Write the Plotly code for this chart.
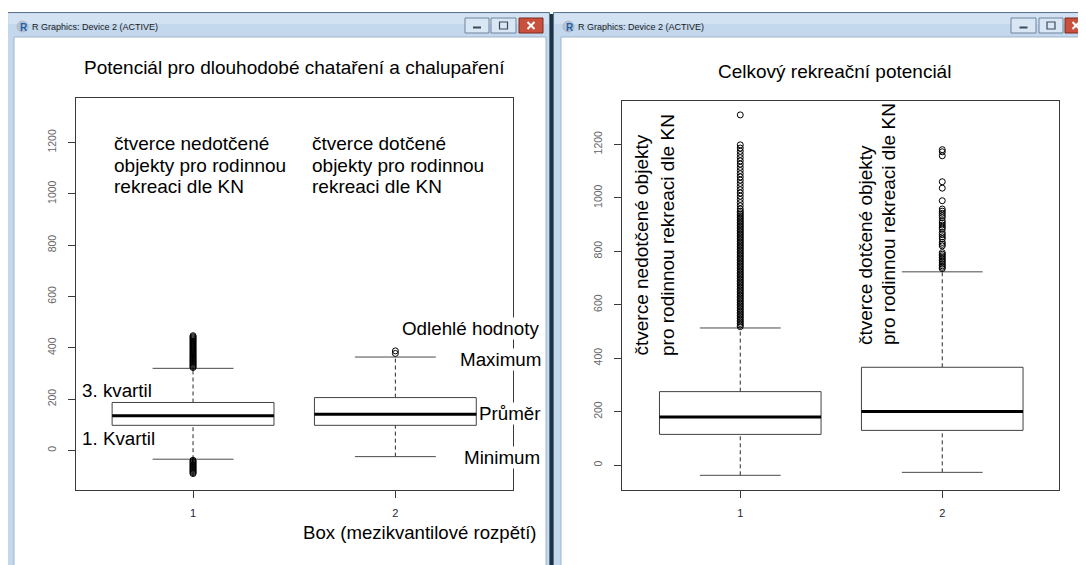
import plotly.graph_objects as go

# page body has an 8px margin: figure is offset, so size it to the remaining area
OX, OY = 8, 8
W, H = 1086 - OX, 565 - OY

# ---------------- data ----------------
categories = ["1", "2"]
positions = [1, 2]
y_ticks = [0, 200, 400, 600, 800, 1000, 1200]

left_title = "Potenciál pro dlouhodobé chataření a chalupaření"
left_lower = [-34, -24]
left_q1 = [98, 98]
left_median = [135, 141]
left_q3 = [187, 206]
left_upper = [320, 364]
left_out_1 = [323, 327, 331, 335, 339, 343, 347, 351, 355, 359, 363, 367, 371, 375, 379, 383,
              387, 391, 395, 399, 403, 407, 411, 415, 419, 423, 427, 431, 435, 439, 443, 447,
              -38, -42, -46, -50, -54, -58, -62, -66, -70, -74, -78, -82, -86, -90]
left_out_2 = [378, 388]

right_title = "Celkový rekreační potenciál"
right_lower = [-38, -27]
right_q1 = [115, 130]
right_median = [180, 201]
right_q3 = [275, 366]
right_upper = [513, 723]
right_out_1 = [1310,
               1198, 1186, 1174, 1162, 1150, 1138, 1126, 1114, 1102, 1090, 1078, 1066, 1054,
               1042, 1030, 1018, 1006, 994, 982, 970, 958,
               950, 944, 938, 932, 926, 920, 914, 908, 902, 896, 890, 884, 878, 872, 866, 860,
               854, 848, 842, 836, 830, 824, 818, 812, 806, 800, 794, 788, 782, 776, 770, 764,
               758, 752, 746, 740, 734, 728, 722, 716, 710, 704, 698, 692, 686, 680, 674, 668,
               662, 656, 650, 644, 638, 632, 626, 620, 614, 608, 602, 596, 590, 584, 578, 572,
               566, 560, 554, 548, 542, 536, 530, 524, 518]
right_out_2 = [1180, 1172, 1157, 1060, 1036, 989, 958, 950, 942, 934, 926, 914, 906, 898, 890,
               883, 870, 862, 854, 846, 833, 826, 820, 795, 789, 783, 777, 771, 765, 759, 752,
               746, 740, 735]

left_labels_1 = ["čtverce nedotčené", "objekty pro rodinnou", "rekreaci dle KN"]
left_labels_2 = ["čtverce dotčené", "objekty pro rodinnou", "rekreaci dle KN"]
right_labels_1 = ["čtverce nedotčené objekty", "pro rodinnou rekreaci dle KN"]
right_labels_2 = ["čtverce dotčené objekty", "pro rodinnou rekreaci dle KN"]
window_title = "R Graphics: Device 2 (ACTIVE)"

FONT = "Liberation Sans, Arial, sans-serif"
BIG = 18.8

fig = go.Figure()


def px(x):
    return (x - OX) / W


def py(y):
    return 1 - (y - OY) / H


def add_boxes(xa, ya, lower, q1, med, q3, upper, outs):
    bx, by, mx, my, wx, wy, cx, cy = [], [], [], [], [], [], [], []
    for i, c in enumerate(positions):
        bx += [c - 0.4, c + 0.4, c + 0.4, c - 0.4, c - 0.4, None]
        by += [q1[i], q1[i], q3[i], q3[i], q1[i], None]
        mx += [c - 0.4, c + 0.4, None]
        my += [med[i], med[i], None]
        wx += [c, c, None, c, c, None]
        wy += [q3[i], upper[i], None, lower[i], q1[i], None]
        cx += [c - 0.2, c + 0.2, None, c - 0.2, c + 0.2, None]
        cy += [upper[i], upper[i], None, lower[i], lower[i], None]
    common = dict(xaxis=xa, yaxis=ya, hoverinfo="skip", showlegend=False)
    fig.add_trace(go.Scatter(x=wx, y=wy, mode="lines",
                             line=dict(color="#2a2a2a", width=1, dash="4px,3px"), **common))
    fig.add_trace(go.Scatter(x=cx, y=cy, mode="lines",
                             line=dict(color="#4a4a4a", width=1), **common))
    fig.add_trace(go.Scatter(x=bx, y=by, mode="lines", fill="toself", fillcolor="white",
                             line=dict(color="#404040", width=1), **common))
    fig.add_trace(go.Scatter(x=mx, y=my, mode="lines",
                             line=dict(color="black", width=3), **common))
    for i, c in enumerate(positions):
        fig.add_trace(go.Scatter(x=[c] * len(outs[i]), y=outs[i], mode="markers",
                                 marker=dict(symbol="circle-open", size=6, color="black",
                                             line=dict(width=1)), **common))


add_boxes("x", "y", left_lower, left_q1, left_median, left_q3, left_upper,
          [left_out_1, left_out_2])
add_boxes("x2", "y2", right_lower, right_q1, right_median, right_q3, right_upper,
          [right_out_1, right_out_2])

# ---------------- window chrome ----------------
shapes = []


def rect(x0, y0, x1, y1, fill, line=None, lw=0, layer="below"):
    shapes.append(dict(type="rect", xref="paper", yref="paper",
                       x0=px(x0), x1=px(x1), y0=py(y1), y1=py(y0),
                       fillcolor=fill, line=dict(color=line or fill, width=lw), layer=layer))


def seg(x0, y0, x1, y1, color, lw):
    shapes.append(dict(type="line", xref="paper", yref="paper",
                       x0=px(x0), x1=px(x1), y0=py(y0), y1=py(y1),
                       line=dict(color=color, width=lw), layer="above"))


# dark desktop strip between the windows
rect(549.5, 14, 553.5, 575, "#1f3441")
# window frames
for (l, r) in [(7.5, 549.5), (553.5, 1100)]:
    rect(l, 12.5, r, 580, "#c3d7ed", "#5c7390", 1)
    rect(l + 1, 13.5, r - 1, 24, "#d3e2f3")
# client areas
rect(14, 37, 546, 580, "white", "#9fb5cc", 1)
rect(561, 37, 1100, 580, "white", "#9fb5cc", 1)

annotations = []


def text(x, y, s, size=BIG, xanchor="left", yanchor="middle", color="black",
         angle=0, bg=None, family=FONT):
    a = dict(x=px(x), y=py(y), xref="paper", yref="paper", text=s, showarrow=False,
             xanchor=xanchor, yanchor=yanchor, textangle=angle,
             font=dict(size=size, color=color, family=family))
    if bg:
        a.update(bgcolor=bg, borderpad=0)
    annotations.append(a)


# buttons
for (mn, mxb, cl) in [((465, 489), (491, 516), (519, 543)),
                      ((1011, 1036), (1039, 1063), (1065, 1100))]:
    rect(mn[0], 18, mn[1], 33, "#d9e6f3", "#6f859e", 1)
    rect(mxb[0], 18, mxb[1], 33, "#d9e6f3", "#6f859e", 1)
    rect(cl[0], 18, cl[1], 33, "#c9503d", "#7d2b20", 1)
    c1 = (mn[0] + mn[1]) / 2
    rect(c1 - 4, 26.5, c1 + 4, 28.5, "#3b4a5c")
    c2 = (mxb[0] + mxb[1]) / 2
    rect(c2 - 4, 22, c2 + 4, 29, "rgba(0,0,0,0)", "#3b4a5c", 1.2)
    c3 = min((cl[0] + cl[1]) / 2, 1076)
    seg(c3 - 3.5, 22, c3 + 3.5, 29, "white", 2)
    seg(c3 - 3.5, 29, c3 + 3.5, 22, "white", 2)

# R icons + window titles
for x0 in [17, 563]:
    shapes.append(dict(type="circle", xref="paper", yref="paper",
                       x0=px(x0), x1=px(x0 + 11), y0=py(32), y1=py(21),
                       fillcolor="#b9c3cc", line=dict(color="#9aa5af", width=0.5), layer="below"))
    text(x0 + 6.5, 27.5, "<b>R</b>", size=10, xanchor="center", color="#1d5fb4")
    text(x0 + 13, 27, window_title, size=9, color="#1a1a1a")

# ---------------- plot texts ----------------
text(294, 68, left_title, size=19, xanchor="center")
text(834, 71, right_title, size=19, xanchor="center")

for i, s in enumerate(left_labels_1):
    text(112, 143.5 + 21.5 * i, s, size=19)
for i, s in enumerate(left_labels_2):
    text(310, 143.5 + 21.5 * i, s, size=19)

text(540, 328, "Odlehlé hodnoty", xanchor="right", bg="white")
text(541.5, 359, "Maximum", xanchor="right", bg="white")
text(478, 413, "Průměr", xanchor="left", bg="white")
text(540.5, 457, "Minimum", xanchor="right", bg="white")
text(80, 390.5, "3. kvartil")
text(80, 438, "1. Kvartil")
text(539, 532.5, "Box (mezikvantilové rozpětí)", xanchor="right", size=18.6)

for xc, s in zip([641, 667], right_labels_1):
    text(xc, 358, s, angle=-90, xanchor="center", yanchor="bottom", size=19)
for xc, s in zip([866, 889], right_labels_2):
    text(xc, 347, s, angle=-90, xanchor="center", yanchor="bottom", size=19)

# ---------------- axes ----------------
axis_common = dict(showline=True, mirror=True, linecolor="#3a3a3a", linewidth=1,
                   ticks="outside", ticklen=7, tickcolor="#3a3a3a", tickwidth=1,
                   showgrid=False, zeroline=False, fixedrange=True)
xfont = dict(size=11, color="#262636", family=FONT)
yfont = dict(size=10.5, color="#666666", family=FONT)

fig.update_layout(
    width=W, height=H,
    margin=dict(l=0, r=0, t=0, b=0),
    paper_bgcolor="white", plot_bgcolor="rgba(0,0,0,0)",
    showlegend=False,
    xaxis=dict(domain=[px(75.7), px(512.7)], range=[0.42, 2.58], anchor="y",
               tickvals=positions, ticktext=categories, tickfont=xfont,
               ticklabelstandoff=6, **axis_common),
    yaxis=dict(domain=[py(490), py(98.3)], range=[-154, 1372], anchor="x",
               tickvals=y_ticks, ticktext=[str(v) for v in y_ticks], tickangle=-90,
               tickfont=yfont, ticklabelstandoff=8, **axis_common),
    xaxis2=dict(domain=[px(622.3), px(1059.4)], range=[0.416, 2.58], anchor="y2",
                tickvals=positions, ticktext=categories, tickfont=xfont,
                ticklabelstandoff=6, **axis_common),
    yaxis2=dict(domain=[py(490), py(101)], range=[-93, 1362], anchor="x2",
                tickvals=y_ticks, ticktext=[str(v) for v in y_ticks], tickangle=-90,
                tickfont=yfont, ticklabelstandoff=8, **axis_common),
    shapes=shapes,
    annotations=annotations,
)

fig.write_html("out.html")
